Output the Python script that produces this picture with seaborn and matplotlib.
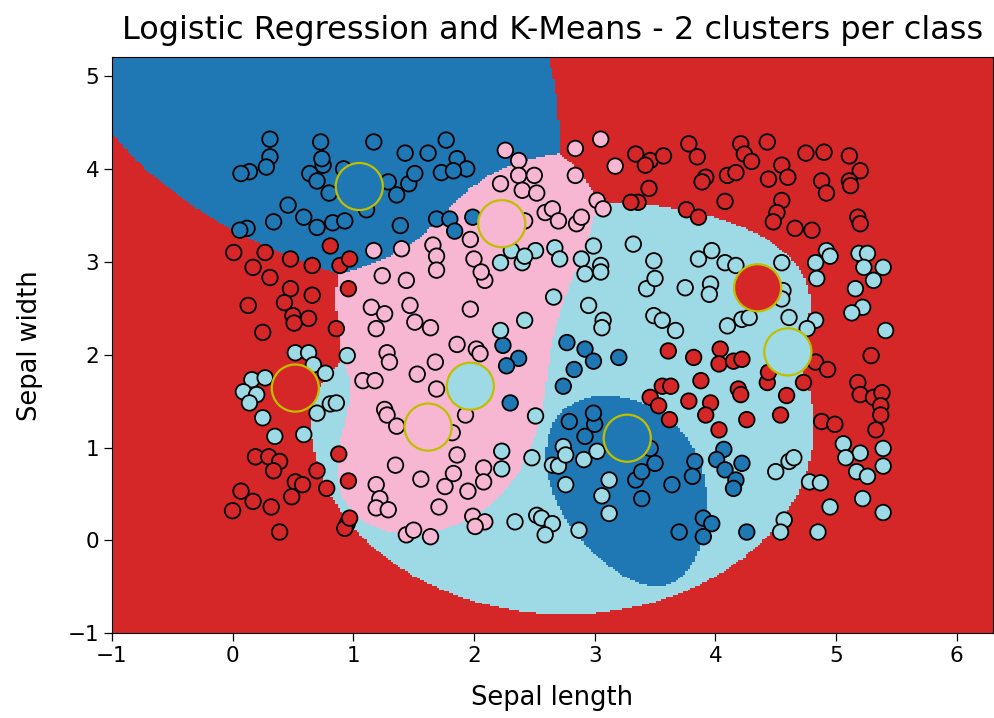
import numpy as np
import pandas as pd
import matplotlib
matplotlib.use('Agg')
import matplotlib.pyplot as plt
from matplotlib.colors import ListedColormap
import seaborn as sns

# class names and colours (tab20 picks)
classes = ['blue', 'red', 'pink', 'cyan']
colors = ['#1f77b4', '#d62728', '#f7b6d2', '#9edae5']

# points, one pair of lists per class
blue_x = [0.31, 0.73, 1.17, 1.43, 1.62, 1.77, 0.31, 0.28, 0.14, 0.07, 0.75, 0.74, 0.64, 0.70, 0.80, 0.92,
          1.29, 1.36, 1.46, 1.51, 1.73, 0.46, 1.11, 0.34, 0.59, 0.70, 0.83, 0.93, 1.39, 1.69, 0.12, 0.06,
          1.86, 1.94, 1.83, 1.80, 1.84, 1.99,
          2.24, 2.37, 2.27, 2.30, 2.77, 2.92, 2.99, 3.20, 2.83, 2.74,
          2.79, 2.92, 3.00, 2.99, 3.34, 3.39, 3.50, 3.39, 3.46,
          3.64, 3.83, 3.81, 4.07, 4.01, 4.08, 4.22, 4.17, 4.15, 3.90, 3.97, 3.90, 3.70, 4.26]
blue_y = [4.32, 4.29, 4.29, 4.17, 4.17, 4.31, 4.13, 4.02, 3.97, 3.95, 4.04, 4.11, 3.95, 3.87, 3.74, 4.00,
          3.86, 3.72, 3.84, 3.95, 3.96, 3.61, 3.56, 3.43, 3.48, 3.37, 3.42, 3.44, 3.39, 3.46, 3.36, 3.34,
          4.11, 4.00, 3.98, 3.46, 3.33, 3.48,
          2.10, 1.96, 1.88, 1.48, 2.13, 2.06, 1.93, 1.97, 1.84, 1.66,
          1.28, 1.12, 1.25, 1.37, 0.65, 0.74, 0.83, 0.45, 0.99,
          0.60, 0.85, 0.69, 0.98, 0.87, 0.76, 0.83, 0.65, 0.56, 0.24, 0.18, 0.04, 0.09, 0.09]

red_x = [0.81, 0.01, 0.27, 0.48, 0.17, 0.66, 0.89, 0.97,
         3.34, 3.46, 3.57, 3.42, 3.45, 3.36, 3.30,
         3.78, 3.85, 4.21, 4.24, 4.30, 4.43, 4.75, 4.90, 5.11, 5.20, 5.11, 5.12, 3.92, 3.89, 4.10, 4.17,
         4.44, 4.55, 4.60, 4.88, 4.92, 4.08, 3.76, 3.86, 4.55, 4.51, 4.48, 4.66, 4.80, 5.18, 5.20,
         0.31, 0.48, 0.66, 0.13, 0.43, 0.50, 0.63, 0.51, 0.25, 0.86, 0.96,
         3.61, 3.46, 3.56, 3.63, 3.53,
         3.82, 4.04, 4.03, 4.15, 4.22, 3.88, 4.19, 4.21, 4.43, 4.44, 3.78, 3.96, 4.59, 4.83, 4.93, 4.73,
         5.29, 5.18, 5.20, 5.31, 5.38, 5.37,
         0.19, 0.30, 0.39, 0.34, 0.07, 0.17, 0.32, 0.00, 0.39, 0.52, 0.49, 0.58, 0.70, 0.78, 0.88, 0.96,
         0.95, 0.93, 0.97,
         3.62, 3.92, 4.26, 4.54, 4.03, 4.88, 4.99, 5.33, 5.37]
red_y = [3.17, 3.10, 3.10, 3.03, 2.94, 2.96, 2.96, 3.03,
         4.16, 4.09, 4.14, 4.04, 3.79, 3.64, 3.64,
         4.27, 4.13, 4.27, 4.16, 4.08, 4.29, 4.17, 4.18, 4.14, 3.98, 3.87, 3.82, 3.91, 3.86, 3.93, 3.96,
         3.89, 4.04, 3.91, 3.87, 3.74, 3.65, 3.56, 3.48, 3.66, 3.53, 3.43, 3.36, 3.34, 3.48, 3.41,
         2.83, 2.71, 2.64, 2.53, 2.56, 2.42, 2.39, 2.34, 2.24, 2.28, 2.71,
         2.04, 1.54, 1.66, 1.66, 1.45,
         1.97, 2.06, 1.90, 1.93, 1.95, 1.72, 1.63, 1.57, 1.70, 1.81, 1.50, 1.48, 1.56, 1.92, 1.84, 1.70,
         1.99, 1.70, 1.57, 1.54, 1.59, 1.45,
         0.90, 0.90, 0.85, 0.75, 0.53, 0.42, 0.36, 0.32, 0.09, 0.63, 0.47, 0.60, 0.75, 0.56, 0.93, 0.64,
         0.18, 0.13, 0.24,
         1.30, 1.35, 1.30, 1.35, 1.19, 1.28, 1.25, 1.19, 1.35]

pink_x = [1.17, 1.40, 1.66, 1.69,
          2.26, 2.37, 2.37, 2.50, 2.22, 2.40, 2.52, 2.84, 3.05, 2.84, 3.17, 3.02, 3.07, 2.59, 2.65, 2.70,
          2.85, 2.89, 2.42, 1.97, 2.00,
          1.24, 1.44, 1.69, 1.15, 1.26, 1.47, 1.19, 1.51, 1.64, 1.28, 1.30, 1.68, 1.53, 1.08, 1.18, 1.69, 1.26,
          2.09, 2.06, 1.97, 1.86, 2.02, 2.05,
          1.28, 1.36, 1.35, 1.56, 1.19, 1.22, 1.19, 1.29, 1.71, 1.76, 1.44, 1.50, 1.64,
          1.93, 1.82, 1.86, 1.83, 2.08, 2.08, 1.95, 1.99, 2.09, 2.01]
pink_y = [3.12, 3.14, 3.18, 3.06,
          4.20, 4.09, 3.93, 3.93, 3.84, 3.77, 3.74, 4.22, 4.32, 3.93, 4.03, 3.66, 3.57, 3.53, 3.57, 3.44,
          3.41, 3.48, 3.44, 3.24, 3.03,
          2.85, 2.80, 2.91, 2.51, 2.44, 2.53, 2.28, 2.35, 2.29, 2.02, 1.92, 1.92, 1.79, 1.72, 1.72, 1.63, 1.41,
          2.80, 2.89, 2.49, 2.11, 2.06, 2.01,
          1.35, 1.23, 0.81, 0.66, 0.60, 0.45, 0.35, 0.33, 0.36, 0.58, 0.06, 0.11, 0.04,
          1.35, 1.16, 0.92, 0.72, 0.78, 0.63, 0.53, 0.26, 0.20, 0.15]

cyan_x = [2.31, 2.40, 2.51, 2.22, 2.67, 2.71, 2.89, 2.99, 3.05, 3.32, 3.49, 2.42,
          3.86, 3.97, 4.08, 4.17, 4.55, 4.83, 4.92, 4.95, 5.19, 5.26, 5.23, 5.39,
          0.52, 0.63, 0.67, 0.77, 0.95, 0.16, 0.27, 0.09, 0.20, 0.14, 0.81, 0.86,
          2.22, 2.42, 2.66, 2.92, 3.05, 2.95, 3.07, 3.06, 3.43, 3.50, 3.49, 3.56,
          3.75, 3.96, 3.95, 3.67, 4.10, 4.22, 4.28, 4.56, 4.55, 4.61, 4.83, 4.84, 4.76, 5.16, 5.22, 5.13,
          5.31, 5.41,
          0.25, 0.35, 0.59, 0.70,
          2.23, 2.23, 2.48, 2.34, 2.52, 2.56, 2.65, 2.59, 2.87, 2.51, 2.65, 2.70, 2.74, 2.76, 2.91, 3.02,
          2.76, 3.12, 3.06, 3.12,
          4.50, 4.61, 4.65, 4.57, 4.54, 4.78, 4.87, 5.06, 5.20, 5.08, 5.17, 5.26, 5.39, 5.39, 4.95, 5.22,
          5.39, 4.85]
cyan_y = [3.12, 2.99, 3.12, 2.99, 3.15, 3.03, 3.03, 3.17, 2.96, 3.19, 3.01, 3.06,
          3.03, 3.12, 2.99, 2.96, 2.99, 2.99, 3.12, 3.06, 3.09, 3.09, 2.94, 2.94,
          2.02, 2.02, 1.89, 1.80, 1.99, 1.73, 1.75, 1.60, 1.57, 1.48, 1.47, 1.48,
          2.26, 2.37, 2.62, 2.87, 2.89, 2.53, 2.37, 2.29, 2.71, 2.82, 2.42, 2.37,
          2.72, 2.76, 2.65, 2.26, 2.31, 2.38, 2.40, 2.69, 2.60, 2.40, 2.37, 2.82, 2.28, 2.71, 2.51, 2.45,
          2.80, 2.26,
          1.32, 1.12, 1.14, 1.37,
          0.96, 0.77, 0.89, 0.20, 0.27, 0.24, 0.18, 0.06, 0.11, 1.34, 0.81, 0.80, 1.01, 0.92, 0.87, 0.96,
          0.60, 0.65, 0.48, 0.29,
          0.74, 0.85, 0.89, 0.22, 0.09, 0.63, 0.62, 1.04, 0.94, 0.89, 0.74, 0.69, 0.99, 0.80, 0.36, 0.45,
          0.30, 0.09]

# k-means centres, 2 per class
center_x = [1.05, 3.27, 0.52, 4.35, 2.23, 1.62, 1.97, 4.60]
center_y = [3.81, 1.10, 1.64, 2.72, 3.41, 1.22, 1.66, 2.03]
center_cls = ['blue', 'blue', 'red', 'red', 'pink', 'pink', 'cyan', 'cyan']

# build one table of points
parts = []
for name, xs, ys in [('blue', blue_x, blue_y), ('red', red_x, red_y),
                     ('pink', pink_x, pink_y), ('cyan', cyan_x, cyan_y)]:
    parts.append(pd.DataFrame({'x': xs, 'y': ys, 'cls': name}))
df = pd.concat(parts, ignore_index=True)
df['code'] = df['cls'].map({c: i for i, c in enumerate(classes)})
centers = pd.DataFrame({'x': center_x, 'y': center_y, 'cls': center_cls})

cx = np.array(center_x)
cy = np.array(center_y)


def dist_features(px, py):
    # distance to every cluster centre, like KMeans.transform, plus a bias column
    d = np.sqrt((px[:, None] - cx[None, :]) ** 2 + (py[:, None] - cy[None, :]) ** 2)
    return np.hstack([d, np.ones((len(px), 1))])


# multinomial logistic regression with L2 penalty, fitted by Newton steps
C = 0.5
Xd = dist_features(df['x'].values, df['y'].values)
Y = np.eye(4)[df['code'].values]
nf = Xd.shape[1]
reg = np.r_[np.ones(nf - 1), 1e-6]


def softmax(Z):
    Z = Z - Z.max(1, keepdims=True)
    E = np.exp(Z)
    return E / E.sum(1, keepdims=True)


def loss(W):
    Z = Xd @ W
    Z = Z - Z.max(1, keepdims=True)
    logp = Z - np.log(np.exp(Z).sum(1, keepdims=True))
    return -C * (Y * logp).sum() + 0.5 * (reg[:, None] * W ** 2).sum()


W = np.zeros((nf, 4))
for it in range(80):
    P = softmax(Xd @ W)
    G = C * Xd.T @ (P - Y) + reg[:, None] * W
    S = P[:, :, None] * np.eye(4)[None] - P[:, :, None] * P[:, None, :]
    H = C * np.einsum('ia,ib,icd->acbd', Xd, Xd, S).reshape(nf * 4, nf * 4)
    H += np.diag(np.repeat(reg, 4))
    step = np.linalg.solve(H, G.ravel()).reshape(nf, 4)
    t = 1.0
    l0 = loss(W)
    while loss(W - t * step) > l0 and t > 1e-6:
        t /= 2
    W = W - t * step

# decision regions on a mesh
h = 0.02
xx, yy = np.meshgrid(np.arange(-1, 6.3 + h, h), np.arange(-1, 5.3 + h, h))
Z = np.argmax(dist_features(xx.ravel(), yy.ravel()) @ W, axis=1).reshape(xx.shape)

fig = plt.figure(figsize=(9.95, 7.18), dpi=100)
ax = fig.add_axes([0.1124, 0.118, 0.8856, 0.802])
ax.pcolormesh(xx, yy, Z, cmap=ListedColormap(colors), vmin=-0.5, vmax=3.5, shading='auto')

pal = dict(zip(classes, colors))
sns.scatterplot(data=df, x='x', y='y', hue='cls', palette=pal, s=125,
                edgecolor='k', linewidth=1.3, legend=False, ax=ax, zorder=3)
sns.scatterplot(data=centers, x='x', y='y', hue='cls', palette=pal, s=1150,
                edgecolor='y', linewidth=1.6, legend=False, ax=ax, zorder=4)

ax.set_xlim(-1, 6.3)
ax.set_ylim(-1, 5.2)
ax.set_xticks(range(-1, 7))
ax.set_yticks(range(-1, 6))
ax.tick_params(labelsize=15.5, length=5.5, width=0.9)
ax.set_xlabel('Sepal length', fontsize=18.5, labelpad=14)
ax.set_ylabel('Sepal width', fontsize=18.5, labelpad=18)
ax.set_title('Logistic Regression and K-Means - 2 clusters per class', fontsize=23, pad=13)

plt.savefig('out.png', dpi=100)
